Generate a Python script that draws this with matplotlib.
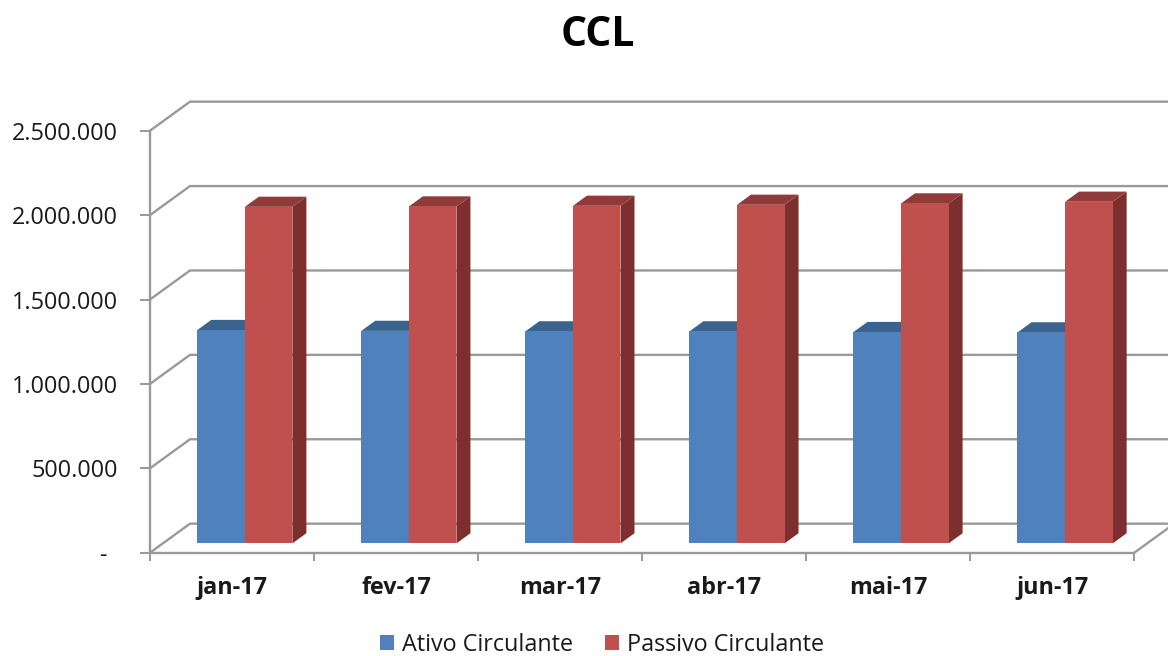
import matplotlib
matplotlib.use("Agg")
import matplotlib.pyplot as plt
from matplotlib.patches import Polygon, Patch
from matplotlib.ticker import FixedLocator, FuncFormatter
from matplotlib.transforms import ScaledTranslation

plt.rcParams['font.family'] = ['Open Sans', 'DejaVu Sans']

# ---------------- data ----------------
categories = ["jan-17", "fev-17", "mar-17", "abr-17", "mai-17", "jun-17"]
ativo = [1264000, 1259000, 1256000, 1256000, 1252000, 1250000]
passivo = [1994000, 1996000, 2000000, 2006000, 2014000, 2024000]
series_names = ["Ativo Circulante", "Passivo Circulante"]
y_ticks = [0, 500000, 1000000, 1500000, 2000000, 2500000]
title = "CCL"

# ---------------- style ----------------
front_colors = ["#4F81BD", "#C0504D"]
top_colors = ["#3B6390", "#903B39"]
side_colors = ["#385D8A", "#7C2F2E"]
grid_color = "#999999"
YMAX = 2500000
DX = 0.2438          # depth offset of back wall, in category units
DY = 172000          # depth offset of back wall, in value units
F0, F1 = 0.32, 0.67  # bar depth range (fraction of total depth)
BAR_W = 0.29
FS = 16.8

W, H = 1168, 656
fig = plt.figure(figsize=(W / 100, H / 100), dpi=100)
ax = fig.add_axes([150 / W, (H - 552.7) / H, (1134.3 - 150) / W, (552.7 - 130.7) / H])
n = len(categories)
ax.set_xlim(0, n)
ax.set_ylim(0, YMAX)
ax.patch.set_visible(False)

# back-wall gridlines with left-wall diagonals
for v in y_ticks:
    ax.plot([0, DX, n + DX + 1], [v, v + DY, v + DY], color=grid_color, lw=1.7,
            clip_on=False, zorder=1, solid_joinstyle='miter')
# right floor edge
ax.plot([n, n + DX], [0, DY], color=grid_color, lw=1.7, clip_on=False, zorder=1)

# bars
dDX = (F1 - F0) * DX
dDY = (F1 - F0) * DY
gap = (1 - 2 * BAR_W) / 2
for i in range(n):
    for s, vals in enumerate([ativo, passivo]):
        v = vals[i]
        x0 = i + gap + s * BAR_W + F0 * DX
        y0 = F0 * DY
        x1 = x0 + BAR_W
        y1 = y0 + v
        side = [(x1, y0), (x1 + dDX, y0 + dDY), (x1 + dDX, y1 + dDY), (x1, y1)]
        top = [(x0, y1), (x1, y1), (x1 + dDX, y1 + dDY), (x0 + dDX, y1 + dDY)]
        front = [(x0, y0), (x1, y0), (x1, y1), (x0, y1)]
        z = 3 + i * 2 + s
        ax.add_patch(Polygon(side, closed=True, facecolor=side_colors[s], edgecolor='none',
                             clip_on=False, zorder=z))
        ax.add_patch(Polygon(top, closed=True, facecolor=top_colors[s], edgecolor='none',
                             clip_on=False, zorder=z))
        ax.add_patch(Polygon(front, closed=True, facecolor=front_colors[s], edgecolor='none',
                             clip_on=False, zorder=z))

# spines
for sp in ["top", "right"]:
    ax.spines[sp].set_visible(False)
for sp in ["left", "bottom"]:
    ax.spines[sp].set_color(grid_color)
    ax.spines[sp].set_linewidth(1.7)
    ax.spines[sp].set_zorder(2)

# y axis
def fmt(v, pos=None):
    if v == 0:
        return "-"
    return f"{int(v):,}".replace(",", ".")

ax.yaxis.set_major_locator(FixedLocator(y_ticks))
ax.yaxis.set_major_formatter(FuncFormatter(fmt))
ax.tick_params(axis='y', direction='out', length=7.5, width=1.4, color=grid_color,
               pad=15.5, labelsize=FS, labelcolor='#1a1a1a')
for lbl in ax.get_yticklabels():
    if lbl.get_text() == "-":
        lbl.set_transform(lbl.get_transform() + ScaledTranslation(-0.12, 0, fig.dpi_scale_trans))

# x axis
ax.set_xticks([i + 0.5 for i in range(n)])
ax.set_xticklabels(categories, fontweight='bold')
ax.set_xticks(list(range(n + 1)), minor=True)
ax.tick_params(axis='x', which='major', length=0, pad=17, labelsize=FS, labelcolor='#1a1a1a')
ax.tick_params(axis='x', which='minor', direction='out', length=6, width=1.4, color=grid_color)

# title
fig.text(598 / W, 1 - 46 / H, title, ha='center', va='baseline', fontsize=29.5,
         fontweight='bold', color='#000000')

# legend
handles = [Patch(facecolor=c, edgecolor='none') for c in front_colors]
fig.legend(handles, series_names, loc='center', bbox_to_anchor=(602 / W, 1 - 645 / H),
           ncol=2, frameon=False, fontsize=FS, handlelength=0.6, handleheight=0.6,
           handletextpad=0.33, columnspacing=1.4, labelcolor='#1a1a1a')

fig.savefig("out.png", dpi=100)
